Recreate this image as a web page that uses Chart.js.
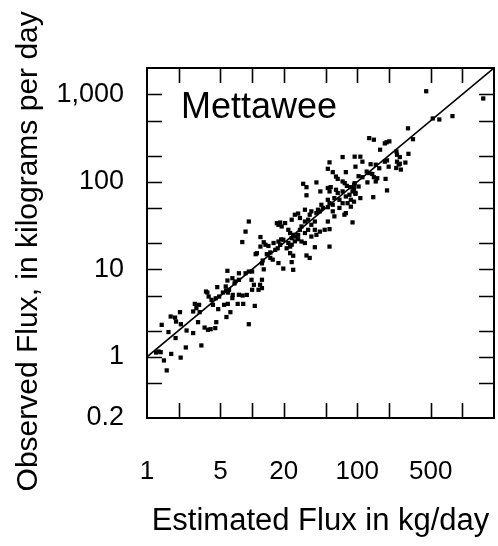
<!doctype html>
<html lang="en">
 <head>
  <meta charset="utf-8">
  <title>Mettawee flux</title>
  <style>
body { margin: 0; background: #fff; }
  </style>
 </head>
 <body>
  <canvas id="fluxchart" width="498" height="546"></canvas>

  <script src="https://cdn.jsdelivr.net/npm/chart.js@4.4.1/dist/chart.umd.min.js"></script>
  <script>
// estimated vs observed flux, kg/day
var estFlux = [
  1.22, 1.29, 1.35, 1.45, 1.54, 1.38, 1.60, 1.70, 1.68, 1.85, 1.89, 1.87, 2.06, 2.10, 2.09, 2.34,
  2.38, 2.75, 2.75, 2.85, 2.95, 3.06, 3.13, 3.17, 3.29, 3.53, 3.80, 4.03, 4.46, 4.56, 3.75, 3.86,
  4.11, 4.24, 4.76, 4.66, 5.27, 5.66, 5.87, 5.87, 6.54, 6.21, 7.29, 8.13, 8.23, 5.82, 6.92, 4.51,
  3.64, 4.86, 5.41, 7.49, 6.49, 5.61, 6.03, 6.49, 7.49, 5.82, 7.49, 8.66, 9.30, 10.0, 9.87, 10.4,
  11.9, 11.5, 12.4, 10.0, 12.4, 12.9, 8.06, 8.66, 9.30, 12.0, 12.9, 14.3, 10.8, 11.1, 13.8, 14.9,
  16.6, 17.5, 18.5, 18.9, 19.8, 14.9, 15.7, 17.8, 19.8, 24.6, 23.0, 24.6, 22.1, 23.0, 21.3, 25.5,
  17.8, 19.1, 20.6, 18.5, 22.1, 23.0, 24.6, 25.9, 23.8, 25.5, 13.4, 12.0, 16.0, 17.8, 23.8, 27.4,
  29.5, 31.8, 54.5, 17.2, 28.5, 29.5, 27.4, 31.8, 34.1, 39.5, 44.1, 49.0, 54.5, 36.6, 40.9, 23.8,
  31.8, 34.1, 36.6, 39.5, 52.5, 27.4, 28.5, 31.8, 36.6, 35.3, 40.9, 44.1, 45.6, 47.1, 42.3, 52.5,
  54.5, 58.5, 52.5, 60.6, 67.7, 72.6, 67.7, 75.5, 58.5, 60.6, 77.9, 86.9, 90.2, 77.9, 84.3, 86.9,
  80.9, 93.2, 96.2, 30.6, 32.9, 32.9, 40.9, 44.6, 52.5, 55.9, 54.5, 62.8, 65.2, 72.6, 65.2, 72.6,
  76.1, 79.7, 86.9, 93.2, 94.5, 93.2, 103, 90.2, 96.2, 107, 142, 192, 72.6, 54.5, 52.5, 58.5,
  77.9, 62.8, 94.5, 107, 112, 96.2, 103, 112, 123, 130, 139, 144, 155, 150, 125, 186,
  134, 150, 162, 183, 192, 199, 235, 260, 239, 254, 287, 130, 144, 183, 190, 202,
  165, 236, 239, 307, 304, 339, 453, 1580, 523, 604, 805, 254, 248, 9.30, 35.3, 32.9,
  23.8, 12.6, 12.4, 10.6, 5.70, 6.80, 8.90, 39.5
];
var obsFlux = [
  1.12, 1.15, 1.13, 0.91, 0.70, 2.32, 1.92, 1.08, 2.89, 2.81, 2.53, 1.64, 3.24, 2.36, 0.98, 1.28,
  2.00, 1.87, 3.30, 4.03, 3.60, 2.49, 3.93, 3.24, 1.35, 2.16, 2.04, 2.07, 2.13, 2.49, 5.43, 4.89,
  4.48, 3.93, 3.51, 6.26, 5.43, 5.73, 5.43, 4.03, 5.11, 3.24, 4.03, 5.02, 4.03, 7.45, 7.26, 4.67,
  5.58, 4.89, 3.93, 5.12, 4.69, 6.37, 5.84, 7.92, 7.59, 9.62, 9.02, 9.02, 9.44, 9.44, 7.59, 6.66,
  6.66, 5.84, 6.10, 5.84, 11.7, 10.0, 20.5, 27.0, 35.2, 23.4, 20.4, 18.5, 14.9, 15.3, 14.9, 15.6,
  16.7, 17.4, 19.1, 22.0, 21.8, 13.5, 12.9, 11.8, 10.2, 9.88, 15.3, 14.3, 20.0, 18.2, 17.4, 42.1,
  32.3, 30.9, 33.8, 34.3, 28.3, 26.0, 24.8, 23.7, 22.7, 20.9, 19.1, 18.2, 20.0, 20.8, 19.1, 22.1,
  20.8, 20.0, 18.2, 33.7, 28.3, 30.9, 24.8, 26.0, 28.3, 28.3, 27.0, 28.3, 28.8, 23.7, 24.8, 36.9,
  35.2, 36.9, 32.3, 35.2, 35.2, 43.4, 38.6, 48.0, 46.0, 42.1, 43.9, 46.0, 54.7, 50.3, 48.0, 62.4,
  57.0, 54.7, 51.3, 65.2, 62.4, 57.0, 50.3, 42.1, 46.0, 40.3, 43.9, 52.0, 34.4, 68.0, 71.2, 62.4,
  57.0, 59.4, 74.6, 95.0, 86.9, 70.2, 98.5, 77.7, 85.0, 86.9, 77.7, 81.2, 74.6, 77.7, 108, 101,
  96.5, 89.9, 86.9, 92.6, 96.5, 83.1, 88.4, 77.7, 72.8, 65.2, 66.8, 79.8, 192, 167, 141, 129,
  129, 115, 194, 194, 170, 149, 116, 113, 131, 126, 123, 113, 110, 101, 98.5, 108,
  159, 157, 143, 170, 176, 149, 144, 138, 170, 161, 166, 316, 303, 275, 283, 290,
  233, 222, 204, 209, 409, 307, 1085, 897, 530, 516, 564, 192, 158, 2.36, 13.5, 14.4,
  12.1, 12.6, 7.60, 3.82, 2.85, 6.90, 5.10, 17.9
];

// 1:1 line
var lineX = [1, 2000];
var lineY = [1, 2000];

var xLabelVals = [1, 5, 20, 100, 500];
var yLabelVals = [0.2, 1, 10, 100, 1000];
var xTickMarks = [2, 5, 10, 20, 50, 100, 200, 500, 1000];
var yTickMarks = [0.5, 1, 2, 5, 10, 20, 50, 100, 200, 500, 1000];

var siteName = 'Mettawee';
var FONT = "'Liberation Sans', Arial, Helvetica, sans-serif";

var points = estFlux.map(function (v, i) { return { x: v, y: obsFlux[i] }; });
var oneToOne = lineX.map(function (v, i) { return { x: v, y: lineY[i] }; });

// frame, inward tick marks on all four sides, site label
const frameTicks = {
  id: 'frameTicks',
  afterDraw(chart) {
    const ctx = chart.ctx;
    const a = chart.chartArea;
    const xs = chart.scales.x, ys = chart.scales.y;
    const len = 15;
    ctx.save();
    ctx.strokeStyle = '#000';
    ctx.lineWidth = 1.6;
    ctx.beginPath();
    xTickMarks.forEach(function (v) {
      const px = Math.round(xs.getPixelForValue(v)) + 0.5;
      ctx.moveTo(px, a.bottom); ctx.lineTo(px, a.bottom - len);
      ctx.moveTo(px, a.top); ctx.lineTo(px, a.top + len);
    });
    yTickMarks.forEach(function (v) {
      const py = Math.round(ys.getPixelForValue(v)) + 0.5;
      ctx.moveTo(a.left, py); ctx.lineTo(a.left + len, py);
      ctx.moveTo(a.right, py); ctx.lineTo(a.right - len, py);
    });
    ctx.stroke();
    ctx.lineWidth = 2;
    ctx.strokeRect(a.left, a.top, a.right - a.left, a.bottom - a.top);

    ctx.fillStyle = '#000';
    ctx.font = '36px ' + FONT;
    ctx.textAlign = 'left';
    ctx.textBaseline = 'alphabetic';
    ctx.fillText(siteName, a.left + 34, a.top + 50);
    ctx.restore();
  }
};

const chartConfig = {
  type: 'scatter',
  data: {
    datasets: [
      {
        label: 'Observations',
        data: points,
        pointStyle: 'rect',
        pointRadius: 3,
        borderWidth: 0,
        backgroundColor: '#000',
      },
      {
        type: 'line',
        label: '1:1',
        data: oneToOne,
        borderColor: '#000',
        borderWidth: 1.6,
        pointRadius: 0,
        fill: false,
      }
    ]
  },
  options: {
    responsive: false,
    animation: false,
    devicePixelRatio: 1,
    layout: { padding: { top: 68, right: 2, left: 0, bottom: 0 } },
    scales: {
      x: {
        type: 'logarithmic',
        min: 1,
        max: 2000,
        afterBuildTicks: function (s) { s.ticks = xLabelVals.map(function (v) { return { value: v }; }); },
        afterFit: function (s) { s.height = 128; },
        grid: { display: false },
        border: { display: false },
        ticks: {
          autoSkip: false,
          maxRotation: 0,
          padding: 30,
          color: '#000',
          font: { family: FONT, size: 26 },
          callback: function (v) { return Number(v).toLocaleString('en-US'); }
        },
        title: {
          display: true,
          text: 'Estimated Flux in kg/day',
          color: '#000',
          font: { family: FONT, size: 31 },
          padding: { top: 0, bottom: 6 }
        }
      },
      y: {
        type: 'logarithmic',
        min: 0.2,
        max: 2000,
        afterBuildTicks: function (s) { s.ticks = yLabelVals.map(function (v) { return { value: v }; }); },
        afterFit: function (s) { s.width = 147; },
        grid: { display: false },
        border: { display: false },
        ticks: {
          autoSkip: false,
          padding: 15,
          color: '#000',
          font: { family: FONT, size: 27 },
          callback: function (v) { return Number(v).toLocaleString('en-US'); }
        },
        title: {
          display: true,
          // trailing spaces nudge the rotated title down a little, like the original
          text: 'Observed Flux, in kilograms per day  ',
          color: '#000',
          font: { family: FONT, size: 30 },
          padding: { top: 11, bottom: 0 }
        }
      }
    },
    plugins: {
      legend: { display: false },
      tooltip: { enabled: false },
      title: { display: false }
    }
  },
  plugins: [frameTicks]
};

const fluxChart = new Chart(document.getElementById('fluxchart'), chartConfig);
  </script>
 </body>
</html>
